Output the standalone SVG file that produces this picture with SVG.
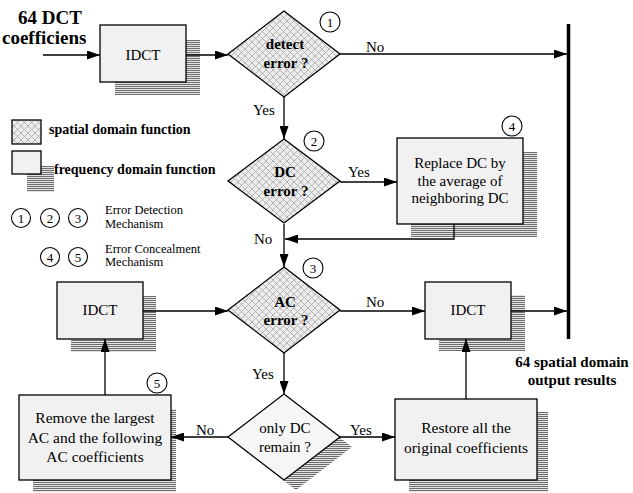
<svg xmlns="http://www.w3.org/2000/svg" width="633" height="493" viewBox="0 0 633 493">
<defs>
<pattern id="hatch" width="7" height="7" patternUnits="userSpaceOnUse">
<rect width="7" height="7" fill="#ececec"/>
<path d="M0,0 L7,7 M7,0 L0,7" stroke="#a8a8a8" stroke-width="0.8"/>
</pattern>
<pattern id="stripes" width="4" height="2" patternUnits="userSpaceOnUse">
<rect width="4" height="2" fill="#e4e4e4"/>
<rect width="4" height="1" fill="#6e6e6e"/>
</pattern>
<marker id="ah" markerWidth="13" markerHeight="9" refX="13" refY="4.5" orient="auto" markerUnits="userSpaceOnUse">
<path d="M0,0 L13,4.5 L0,9 Z" fill="#000"/>
</marker>
</defs>
<style>
.box{fill:#f1f1f1;stroke:#000;stroke-width:1.3}
.shadow{fill:url(#stripes)}
.dia{fill:url(#hatch);stroke:#000;stroke-width:1.3}
.dia2{fill:#f6f6f6;stroke:#000;stroke-width:1.3}
.circ{fill:#fff;stroke:#000;stroke-width:1.1}
.t{font-family:"Liberation Serif","Times New Roman",serif;font-size:15px;fill:#000;text-anchor:middle}
.tb{font-family:"Liberation Serif","Times New Roman",serif;font-size:15px;font-weight:bold;fill:#000;text-anchor:middle}
.num{font-family:"Liberation Serif","Times New Roman",serif;font-size:13px;fill:#000;text-anchor:middle}
.lg{font-family:"Liberation Serif","Times New Roman",serif;font-size:12.5px;fill:#000}
.lgb{font-family:"Liberation Serif","Times New Roman",serif;font-size:14px;font-weight:bold;fill:#000}
.lbl{font-family:"Liberation Serif","Times New Roman",serif;font-size:15px;fill:#000}
.ln{fill:none;stroke:#000;stroke-width:1.3}
</style>
<rect width="633" height="493" fill="#fff"/>

<g id="title">
<text x="18" y="24" class="tb" style="font-size:19px;text-anchor:start">64 DCT</text>
<text x="2" y="44" class="tb" style="font-size:19px;text-anchor:start">coefficiens</text>
</g>

<g id="legend">
<rect x="12" y="120" width="29" height="24" class="dia"/>
<text x="49" y="134" class="lgb">spatial domain function</text>
<rect x="27" y="166" width="27" height="26" class="shadow"/>
<rect x="12" y="151" width="29" height="23" class="box"/>
<text x="54" y="174" class="lgb">frequency domain function</text>
<circle cx="21" cy="218" r="9.5" class="circ"/><text x="21" y="222.5" class="num">1</text>
<circle cx="50" cy="218" r="9.5" class="circ"/><text x="50" y="222.5" class="num">2</text>
<circle cx="78" cy="218" r="9.5" class="circ"/><text x="78" y="222.5" class="num">3</text>
<text x="105" y="214" class="lg">Error Detection</text>
<text x="105" y="228" class="lg">Mechanism</text>
<circle cx="50" cy="257" r="9.5" class="circ"/><text x="50" y="261.5" class="num">4</text>
<circle cx="78" cy="257" r="9.5" class="circ"/><text x="78" y="261.5" class="num">5</text>
<text x="105" y="253" class="lg">Error Concealment</text>
<text x="105" y="266" class="lg">Mechanism</text>
</g>

<g id="idct1">
<rect x="115" y="40" width="85" height="55" class="shadow"/>
<rect x="100" y="25" width="86" height="57" class="box"/>
<text x="143" y="60" class="t">IDCT</text>
</g>

<g id="detect">
<polygon points="284,11 340,54 284,97 228,54" class="dia"/>
<text x="285" y="49" class="tb">detect</text>
<text x="286" y="68" class="tb">error ?</text>
<circle cx="330" cy="22" r="10" class="circ"/><text x="330" y="26.5" class="num">1</text>
</g>

<g id="dcerror">
<polygon points="284,139 340,181 284,223 228,181" class="dia"/>
<text x="285" y="177" class="tb">DC</text>
<text x="286" y="196" class="tb">error ?</text>
<circle cx="314" cy="141" r="10" class="circ"/><text x="314" y="145.5" class="num">2</text>
</g>

<g id="replace">
<rect x="411" y="152" width="126" height="85" class="shadow"/>
<rect x="397" y="138" width="126" height="86" class="box"/>
<text x="460" y="168" class="t">Replace DC by</text>
<text x="460" y="186" class="t">the average of</text>
<text x="460" y="203" class="t">neighboring DC</text>
<circle cx="512" cy="126" r="10" class="circ"/><text x="512" y="130.5" class="num">4</text>
</g>

<g id="acerror">
<polygon points="284,267 340,310 284,353 228,310" class="dia"/>
<text x="285" y="307" class="tb">AC</text>
<text x="286" y="325" class="tb">error ?</text>
<circle cx="313" cy="268" r="10" class="circ"/><text x="313" y="272.5" class="num">3</text>
</g>

<g id="idct2">
<rect x="71" y="296" width="85" height="56" class="shadow"/>
<rect x="57" y="282" width="86" height="57" class="box"/>
<text x="100" y="315" class="t">IDCT</text>
</g>

<g id="idct3">
<rect x="439" y="295" width="86" height="56" class="shadow"/>
<rect x="425" y="282" width="86" height="57" class="box"/>
<text x="468" y="315" class="t">IDCT</text>
</g>

<g id="output">
<text x="572" y="367" class="tb">64 spatial domain</text>
<text x="572" y="385" class="tb">output results</text>
</g>

<g id="onlydc">
<polygon points="296,404 352,447 296,490 240,447" class="shadow"/>
<polygon points="284,394 340,437 284,480 228,437" class="dia2"/>
<text x="285" y="433" class="t">only DC</text>
<text x="285" y="452" class="t">remain ?</text>
</g>

<g id="remove">
<rect x="33" y="409" width="143" height="83" class="shadow"/>
<rect x="19" y="395" width="152" height="85" class="box"/>
<text x="95" y="423" class="t" style="font-size:15.5px">Remove the largest</text>
<text x="95" y="443" class="t" style="font-size:15.5px">AC and the following</text>
<text x="95" y="462" class="t" style="font-size:15.5px">AC coefficients</text>
<circle cx="157" cy="383" r="10" class="circ"/><text x="157" y="387.5" class="num">5</text>
</g>

<g id="restore">
<rect x="409" y="412" width="139" height="80" class="shadow"/>
<rect x="395" y="399" width="142" height="81" class="box"/>
<text x="466" y="433" class="t" style="font-size:15.5px">Restore all the</text>
<text x="466" y="453" class="t" style="font-size:15.5px">original coefficients</text>
</g>

<g id="connectors">
<line x1="43" y1="55" x2="100" y2="55" class="ln" marker-end="url(#ah)"/>
<line x1="186" y1="55" x2="228" y2="55" class="ln" marker-end="url(#ah)"/>
<line x1="340" y1="54" x2="567" y2="54" class="ln" marker-end="url(#ah)"/>
<line x1="284" y1="97" x2="284" y2="139" class="ln" marker-end="url(#ah)"/>
<line x1="340" y1="182" x2="397" y2="182" class="ln" marker-end="url(#ah)"/>
<polyline points="454,224 454,239 285,239" class="ln" marker-end="url(#ah)"/>
<line x1="284" y1="224" x2="284" y2="267" class="ln" marker-end="url(#ah)"/>
<line x1="143" y1="311" x2="228" y2="311" class="ln" marker-end="url(#ah)"/>
<line x1="340" y1="311" x2="425" y2="311" class="ln" marker-end="url(#ah)"/>
<line x1="511" y1="311" x2="567" y2="311" class="ln" marker-end="url(#ah)"/>
<line x1="284" y1="353" x2="284" y2="394" class="ln" marker-end="url(#ah)"/>
<line x1="228" y1="437" x2="171" y2="437" class="ln" marker-end="url(#ah)"/>
<line x1="340" y1="437" x2="395" y2="437" class="ln" marker-end="url(#ah)"/>
<line x1="105" y1="395" x2="105" y2="339" class="ln" marker-end="url(#ah)"/>
<line x1="466" y1="399" x2="466" y2="339" class="ln" marker-end="url(#ah)"/>
<line x1="568.5" y1="24" x2="568.5" y2="339" stroke="#000" stroke-width="3.5"/>
<text x="366" y="52" class="lbl">No</text>
<text x="253" y="115" class="lbl">Yes</text>
<text x="348" y="177" class="lbl">Yes</text>
<text x="254" y="244" class="lbl">No</text>
<text x="366" y="307" class="lbl">No</text>
<text x="252" y="379" class="lbl">Yes</text>
<text x="196" y="435" class="lbl">No</text>
<text x="350" y="435" class="lbl">Yes</text>
</g>
</svg>
